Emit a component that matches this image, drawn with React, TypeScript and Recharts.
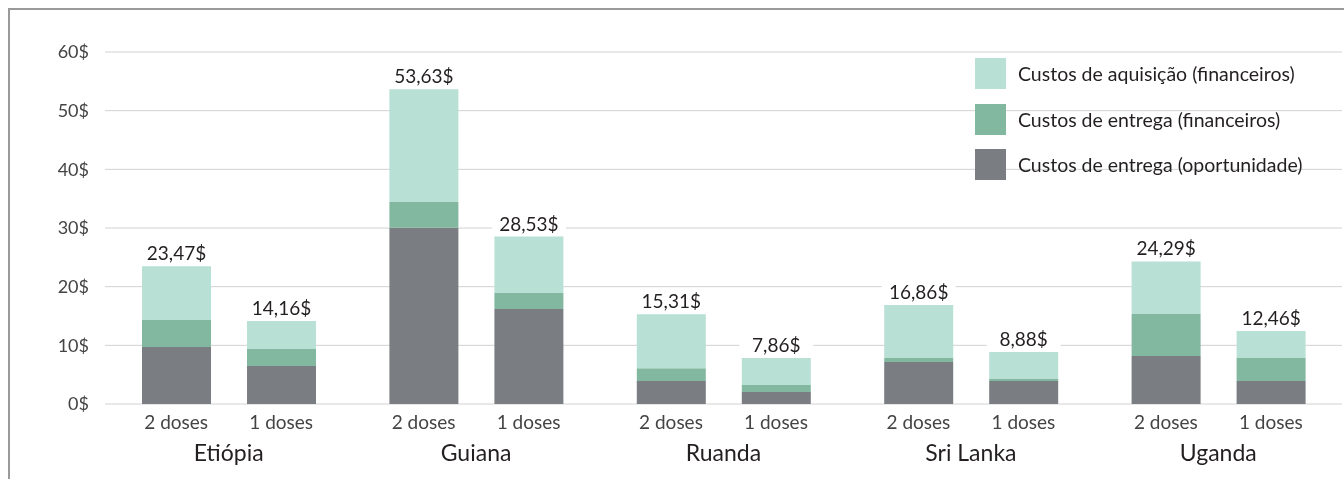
import React from 'react';
import { BarChart, Bar, XAxis, YAxis, CartesianGrid, LabelList } from 'recharts';

// values (US$ per vaccinated girl)
const countries = ['Etiópia', 'Guiana', 'Ruanda', 'Sri Lanka', 'Uganda'];
const doseLabels = ['2 doses', '1 doses'];

const oppTwo = [9.7, 30.05, 3.9, 7.16, 8.18];
const delTwo = [4.6, 4.38, 2.2, 0.7, 7.16];
const acqTwo = [9.17, 19.2, 9.21, 9.0, 8.95];
const totalTwo = [23.47, 53.63, 15.31, 16.86, 24.29];

const oppOne = [6.48, 16.2, 2.05, 3.92, 3.92];
const delOne = [2.9, 2.7, 1.2, 0.35, 3.92];
const acqOne = [4.78, 9.63, 4.61, 4.61, 4.62];
const totalOne = [14.16, 28.53, 7.86, 8.88, 12.46];

const yTicks = [0, 10, 20, 30, 40, 50, 60];

const seriesNames = [
  'Custos de aquisição (financeiros)',
  'Custos de entrega (financeiros)',
  'Custos de entrega (oportunidade)',
];

const COLORS = { acq: '#b8e0d5', del: '#83b8a0', opp: '#7a7d81' };
const FONT = 'Lato, "Open Sans", sans-serif';
const BAR_SIZE = 69;
const BAR_GAP = 36;

const data = countries.map((c, i) => ({
  country: c,
  oppTwo: oppTwo[i],
  delTwo: delTwo[i],
  acqTwo: acqTwo[i],
  totalTwo: totalTwo[i],
  oppOne: oppOne[i],
  delOne: delOne[i],
  acqOne: acqOne[i],
  totalOne: totalOne[i],
}));

const fmt = (v: number) => v.toFixed(2).replace('.', ',') + '$';

const renderTotal = (props: any) => {
  const { x, y, width, value } = props;
  const cx = x + width / 2;
  return (
    <g>
      <rect x={cx - 37} y={y - 24} width={74} height={22} fill="#fff" />
      <text x={cx} y={y - 6} textAnchor="middle" fontSize={19} fill="#231f20" fontFamily={FONT}>
        {fmt(value)}
      </text>
    </g>
  );
};

const CountryTick = (props: any) => {
  const { x, y, payload } = props;
  const off = (BAR_SIZE + BAR_GAP) / 2;
  return (
    <g fontFamily={FONT}>
      <text x={x - off} y={y + 25} textAnchor="middle" fontSize={19} fill="#444">
        {doseLabels[0]}
      </text>
      <text x={x + off} y={y + 25} textAnchor="middle" fontSize={19} fill="#444">
        {doseLabels[1]}
      </text>
      <text x={x} y={y + 57} textAnchor="middle" fontSize={23} fill="#231f20">
        {payload.value}
      </text>
    </g>
  );
};

const legendColors = [COLORS.acq, COLORS.del, COLORS.opp];

export default function App() {
  return (
    <div
      style={{
        position: 'fixed',
        left: 8,
        top: 8,
        width: 1336,
        height: 471,
        overflow: 'hidden',
        borderTop: '2px solid #9a9a9a',
        borderLeft: '2px solid #9a9a9a',
        boxSizing: 'border-box',
        fontFamily: FONT,
      }}
    >
      <BarChart
        width={1334}
        height={461}
        data={data}
        margin={{ top: 42, right: 2, bottom: 0, left: 0 }}
        barGap={BAR_GAP}
        barSize={BAR_SIZE}
      >
        <CartesianGrid vertical={false} stroke="#d2d2d2" />
        <XAxis
          dataKey="country"
          height={67}
          axisLine={false}
          tickLine={false}
          tickSize={0}
          tickMargin={0}
          interval={0}
          tick={<CountryTick />}
        />
        <YAxis
          width={95}
          domain={[0, 60]}
          ticks={yTicks}
          axisLine={false}
          tickLine={false}
          tickSize={0}
          tickMargin={16}
          tickFormatter={(v: number) => `${v}$`}
          tick={{ fontSize: 18, fill: '#444', fontFamily: FONT }}
        />
        <Bar dataKey="oppTwo" stackId="two" fill={COLORS.opp} isAnimationActive={false} />
        <Bar dataKey="delTwo" stackId="two" fill={COLORS.del} isAnimationActive={false} />
        <Bar dataKey="acqTwo" stackId="two" fill={COLORS.acq} isAnimationActive={false}>
          <LabelList dataKey="totalTwo" content={renderTotal} />
        </Bar>
        <Bar dataKey="oppOne" stackId="one" fill={COLORS.opp} isAnimationActive={false} />
        <Bar dataKey="delOne" stackId="one" fill={COLORS.del} isAnimationActive={false} />
        <Bar dataKey="acqOne" stackId="one" fill={COLORS.acq} isAnimationActive={false}>
          <LabelList dataKey="totalOne" content={renderTotal} />
        </Bar>
      </BarChart>
      <div style={{ position: 'absolute', left: 965, top: 48 }}>
        {seriesNames.map((name, i) => (
          <div
            key={name}
            style={{ display: 'flex', alignItems: 'center', height: 31, marginBottom: i < 2 ? 14.5 : 0 }}
          >
            <div style={{ width: 31, height: 31, background: legendColors[i] }} />
            <span style={{ marginLeft: 12, fontSize: 19.5, color: '#231f20', whiteSpace: 'nowrap' }}>{name}</span>
          </div>
        ))}
      </div>
    </div>
  );
}
